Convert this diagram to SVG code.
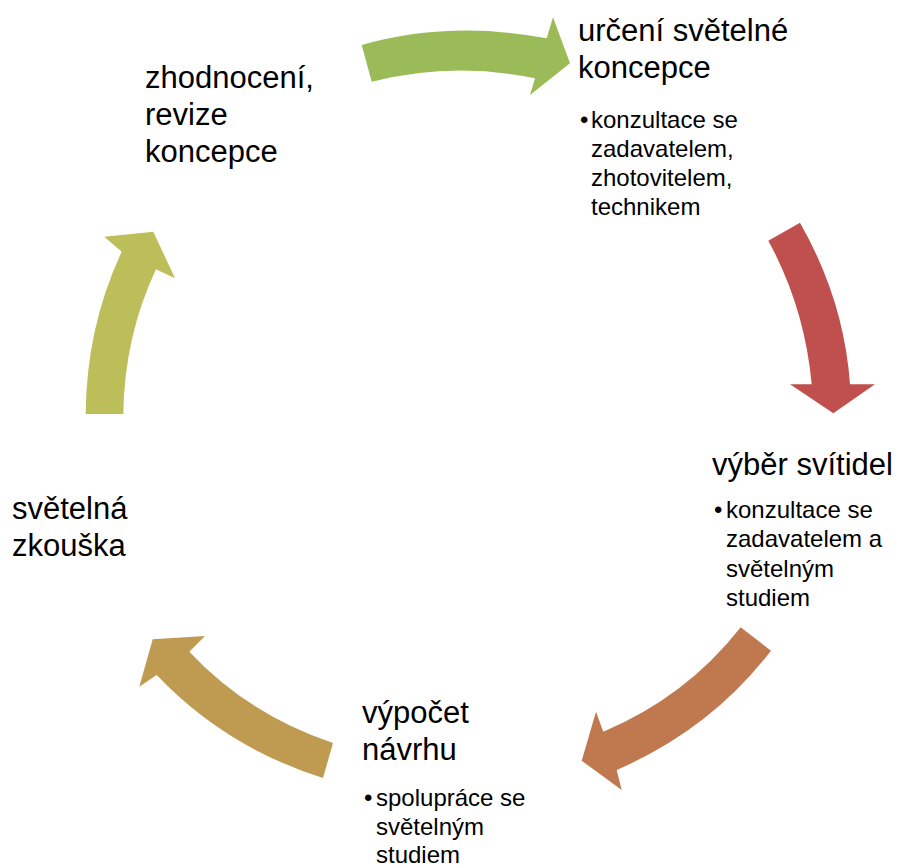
<svg xmlns="http://www.w3.org/2000/svg" width="902" height="868" viewBox="0 0 902 868">
<style>
.t{font-family:"Liberation Sans",Arial,sans-serif;font-size:31px;fill:#000}
.b{font-family:"Liberation Sans",Arial,sans-serif;font-size:24px;fill:#000}
</style>
<rect width="902" height="868" fill="#fff"/>
<g id="connectors">
<path id="arrow-1" fill="#9BBB59" d="M361.7,45 Q450,20 546.7,38.3 L553,17.3 L570,63.3 L530,95 L535,78.3 Q453.4,61.2 371.7,81.7 Z"/>
<path id="arrow-2" fill="#C0504D" d="M800,222.7 Q844,300 850,384.3 L875,384.3 L833.3,413.3 L790,384.3 L811.7,384.3 Q804.6,307.1 768.3,240.7 Z"/>
<path id="arrow-3" fill="#C0794F" d="M740.7,627.3 L771,650.7 Q710.9,729.2 616.7,770 L621.7,790 L581.7,760.7 L596,711.7 L603.3,731.7 Q686,697 740.7,627.3 Z"/>
<path id="arrow-4" fill="#BF9B52" d="M333,743 L323,778 Q225,747 156.7,675 L139.3,686.7 L152.7,639.3 L205,636 L189.3,651.7 Q248.5,714.7 333,743 Z"/>
<path id="arrow-5" fill="#BCBE5A" d="M85.7,414 Q86.3,327.5 121.7,251.7 L104.3,236.7 L153.3,231.7 L175,278.3 L156,269.3 Q124.3,336.7 123.3,414 Z"/>
</g>
<g id="node-urceni">
<text class="t" x="578" y="41">určení světelné</text>
<text class="t" x="578" y="78">koncepce</text>
<text class="b" x="580" y="127.5">•</text>
<text class="b" x="591" y="127.5">konzultace se</text>
<text class="b" x="591" y="156.5">zadavatelem,</text>
<text class="b" x="591" y="185.5">zhotovitelem,</text>
<text class="b" x="591" y="214.5">technikem</text>
</g>
<g id="node-vyber">
<text class="t" x="712" y="475">výběr svítidel</text>
<text class="b" x="714" y="518">•</text>
<text class="b" x="726" y="518">konzultace se</text>
<text class="b" x="726" y="547">zadavatelem a</text>
<text class="b" x="726" y="577">světelným</text>
<text class="b" x="726" y="606">studiem</text>
</g>
<g id="node-vypocet">
<text class="t" x="362" y="723">výpočet</text>
<text class="t" x="362" y="760">návrhu</text>
<text class="b" x="364" y="806">•</text>
<text class="b" x="376" y="806">spolupráce se</text>
<text class="b" x="376" y="834.5">světelným</text>
<text class="b" x="376" y="863">studiem</text>
</g>
<g id="node-zkouska">
<text class="t" x="12" y="519">světelná</text>
<text class="t" x="12" y="556">zkouška</text>
</g>
<g id="node-zhodnoceni">
<text class="t" x="145" y="88">zhodnocení,</text>
<text class="t" x="145" y="125">revize</text>
<text class="t" x="145" y="162">koncepce</text>
</g>
</svg>
